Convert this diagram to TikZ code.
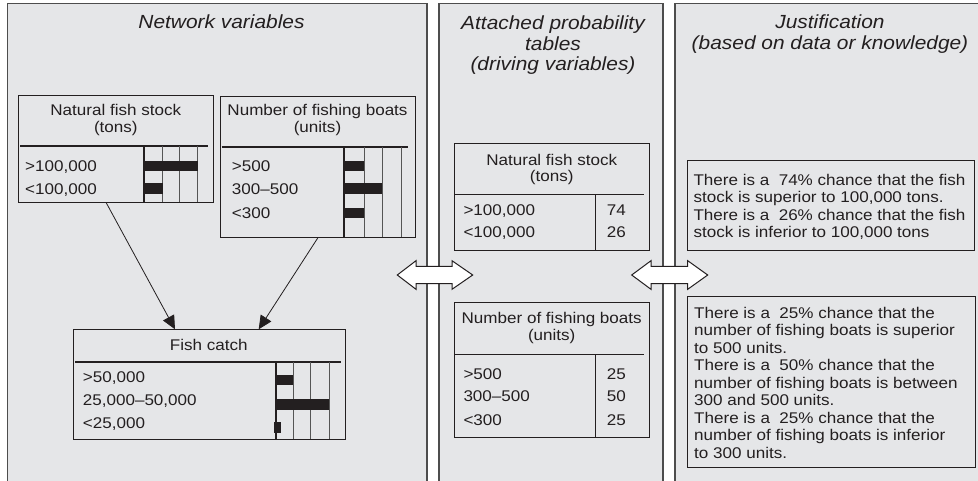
\documentclass[tikz,border=0pt]{standalone}
\usepackage{fontspec}
\setmainfont[FakeStretch=1.1]{Liberation Sans}
\usetikzlibrary{arrows.meta,calc}
\definecolor{panelfill}{HTML}{E5E6E8}
\definecolor{panelline}{HTML}{4D4D4D}
\definecolor{ink}{HTML}{231F20}
\definecolor{gridline}{HTML}{555555}
\begin{document}
\begin{tikzpicture}[x=1pt,y=-1pt,
  panel/.style={fill=panelfill,draw=panelline,line width=1.3pt},
  box/.style={draw=ink,line width=0.9pt,inner sep=0,anchor=north west},
  lbl/.style={inner sep=0,text=ink,font=\fontsize{15.5}{17.5}\selectfont},
  ttl/.style={inner sep=0,text=ink,font=\fontsize{19}{20.5}\selectfont\itshape,anchor=base},
  septhick/.style={draw=ink,line width=2pt},
  septhin/.style={draw=ink,line width=0.9pt},
  axis/.style={draw=ink,line width=2.2pt},
  grid/.style={draw=gridline,line width=0.8pt},
  bar/.style={fill=ink},
  conn/.style={draw=ink,line width=0.8pt,-{Triangle[length=13.5pt,width=12.5pt]}},
  blockarrow/.style={fill=white,draw=ink,line width=1pt,line join=miter}
]
\useasboundingbox (0,0) rectangle (978,480);
\fill[white] (0,0) rectangle (978,480);

% panels
\draw[panel] (7.5,3.5) rectangle (427,495);
\draw[panel] (439,3.5) rectangle (663,495);
\draw[panel] (675,3.5) rectangle (995,495);

% panel titles
\node[ttl] (t1) at (221.5,28) {Network variables};
\node[ttl] (t2a) at (553,29) {Attached probability};
\node[ttl] (t2b) at (553,50) {tables};
\node[ttl] (t2c) at (553,70.5) {(driving variables)};
\node[ttl] (t3a) at (830,28.3) {Justification};
\node[ttl] (t3b) at (830,49.3) {(based on data or knowledge)};

% ---------- Box A: Natural fish stock ----------
\node[box,minimum width=195pt,minimum height=107pt] (A) at (18.3,95) {};
\node[lbl,anchor=base] (Ah1) at (115.8,115.7) {Natural fish stock};
\node[lbl,anchor=base] (Ah2) at (115.8,132.7) {(tons)};
\draw[septhick] (20,146) -- (208,146);
\foreach \x in {162.7,179.3,197.7} \draw[grid] (\x,146) -- (\x,202);
\fill[bar] (144.3,161) rectangle (197.7,170.7);
\fill[bar] (144.3,183.3) rectangle (162.7,194);
\draw[axis] (144.3,146) -- (144.3,202);
\node[lbl,anchor=base west] (Ar1) at (25,171.5) {>100,000};
\node[lbl,anchor=base west] (Ar2) at (25,194) {<100,000};

% ---------- Box B: Number of fishing boats ----------
\node[box,minimum width=195pt,minimum height=141pt] (B) at (220,95.7) {};
\node[lbl,anchor=base] (Bh1) at (317.5,115.7) {Number of fishing boats};
\node[lbl,anchor=base] (Bh2) at (317.5,132.7) {(units)};
\draw[septhick] (221.7,146.7) -- (408,146.7);
\foreach \x in {364,382.3,401.7} \draw[grid] (\x,146.7) -- (\x,236.7);
\fill[bar] (344.3,161) rectangle (364,171);
\fill[bar] (344.3,183.3) rectangle (382.3,194);
\fill[bar] (344.3,208.3) rectangle (364,218.3);
\draw[axis] (344.3,146.7) -- (344.3,236.7);
\node[lbl,anchor=base west] (Br1) at (231.7,171.5) {>500};
\node[lbl,anchor=base west] (Br2) at (231.7,194.3) {300–500};
\node[lbl,anchor=base west] (Br3) at (231.7,218) {<300};

% ---------- Box C: Fish catch ----------
\node[box,minimum width=272.3pt,minimum height=110pt] (C) at (72.7,329.3) {};
\node[lbl,anchor=base] (Ch1) at (208.8,350) {Fish catch};
\draw[septhick] (75,362) -- (340.7,362);
\foreach \x in {293.3,310.7,329.3} \draw[grid] (\x,362) -- (\x,439.3);
\fill[bar] (275.7,375) rectangle (293.3,385.3);
\fill[bar] (275.7,399.3) rectangle (329.3,410);
\fill[bar] (274,421.7) rectangle (280.7,432.7);
\draw[axis] (275.7,362) -- (275.7,439.3);
\node[lbl,anchor=base west] (Cr1) at (82.7,382.5) {>50,000};
\node[lbl,anchor=base west] (Cr2) at (82.7,405.5) {25,000–50,000};
\node[lbl,anchor=base west] (Cr3) at (82.7,428) {<25,000};

% connectors
\draw[conn] ([xshift=88pt]A.south west) -- ([xshift=102.3pt]C.north west);
\draw[conn] ([xshift=98pt]B.south west) -- ([xshift=186pt]C.north west);

% ---------- Table 1 ----------
\node[box,minimum width=195.3pt,minimum height=107.3pt] (T1) at (454,142.7) {};
\node[lbl,anchor=base] (T1h1) at (551.7,165.7) {Natural fish stock};
\node[lbl,anchor=base] (T1h2) at (551.7,181.7) {(tons)};
\draw[septhin] (454,194) -- (644,194);
\draw[septhin] (595.7,194) -- (595.7,250);
\node[lbl,anchor=base west] (T1r1) at (463.3,215) {>100,000};
\node[lbl,anchor=base west] (T1r2) at (463.3,237.5) {<100,000};
\node[lbl,anchor=base west] (T1v1) at (606.7,215) {74};
\node[lbl,anchor=base west] (T1v2) at (606.7,237.5) {26};

% ---------- Table 2 ----------
\node[box,minimum width=195.3pt,minimum height=135pt] (T2) at (454,301.7) {};
\node[lbl,anchor=base] (T2h1) at (551.7,323.3) {Number of fishing boats};
\node[lbl,anchor=base] (T2h2) at (551.7,340) {(units)};
\draw[septhin] (454,354.3) -- (644,354.3);
\draw[septhin] (595.7,354.3) -- (595.7,436.7);
\node[lbl,anchor=base west] (T2r1) at (463.3,379) {>500};
\node[lbl,anchor=base west] (T2r2) at (463.3,401.7) {300–500};
\node[lbl,anchor=base west] (T2r3) at (463.3,425) {<300};
\node[lbl,anchor=base west] (T2v1) at (606.7,379) {25};
\node[lbl,anchor=base west] (T2v2) at (606.7,401.7) {50};
\node[lbl,anchor=base west] (T2v3) at (606.7,425) {25};

% ---------- Justification boxes ----------
\node[box,minimum width=286.7pt,minimum height=90pt] (J1) at (687.3,160) {};
\node[lbl,anchor=north west,align=left] (J1t) at (693.3,174) {There is a\ \ 74\% chance that the fish\\stock is superior to 100,000 tons.\\There is a\ \ 26\% chance that the fish\\stock is inferior to 100,000 tons};

\node[box,minimum width=287.7pt,minimum height=171.3pt] (J2) at (687.3,296) {};
\node[lbl,anchor=north west,align=left] (J2t) at (694,306.7) {There is a\ \ 25\% chance that the\\number of fishing boats is superior\\to 500 units.\\There is a\ \ 50\% chance that the\\number of fishing boats is between\\300 and 500 units.\\There is a\ \ 25\% chance that the\\number of fishing boats is inferior\\to 300 units.};

% ---------- block double arrows ----------
\draw[blockarrow] (397.3,275) -- (416,260.7) -- (416,266.3) -- (452,266.3) -- (452,260.7)
  -- (472.7,275) -- (452,289.3) -- (452,283.7) -- (416,283.7) -- (416,289.3) -- cycle;
\draw[blockarrow] (631.7,275) -- (651,260.7) -- (651,266.3) -- (687.7,266.3) -- (687.7,260.7)
  -- (707.7,275) -- (687.7,289.3) -- (687.7,283.7) -- (651,283.7) -- (651,289.3) -- cycle;
\end{tikzpicture}
\end{document}
